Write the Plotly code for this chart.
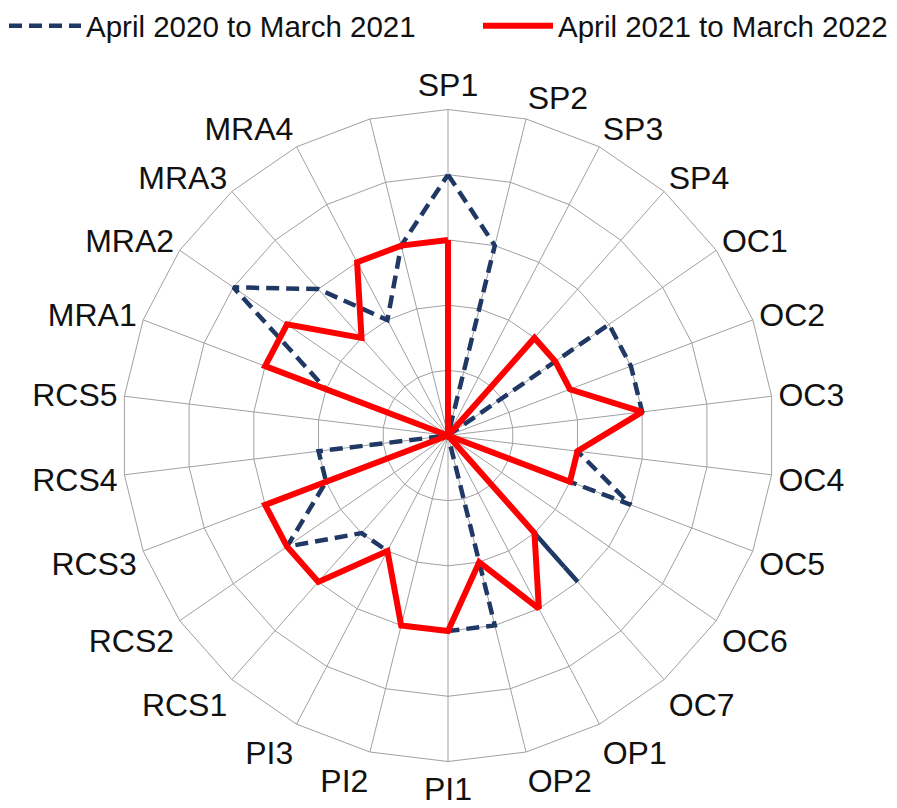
import plotly.graph_objects as go

categories = ["SP1", "SP2", "SP3", "SP4", "OC1", "OC2", "OC3", "OC4", "OC5", "OC6", "OC7",
              "OP1", "OP2", "PI1", "PI2", "PI3", "RCS1", "RCS2", "RCS3", "RCS4", "RCS5",
              "MRA1", "MRA2", "MRA3", "MRA4", " "]

values_2020_21 = [4, 3, 0, 0, 3, 3, 3, 2, 3, 0, 3, 0, 3, 3, 3, 2, 2, 3, 2, 2, 0, 2, 4, 3, 2, 3]
values_2021_22 = [3, 0, 0, 2, 2, 2, 3, 2, 2, 0, 2, 3, 2, 3, 3, 2, 3, 3, 3, 0, 0, 3, 3, 2, 3, 3]

series_names = ["April 2020 to March 2021", "April 2021 to March 2022"]
radial_ticks = [1, 2, 3, 4, 5]

W, H = 897, 808
cx, cy, R = 448, 435.5, 326

def closed(v):
    return list(v) + [v[0]]

fig = go.Figure()
fig.add_trace(go.Scatterpolar(
    r=closed(values_2020_21), theta=closed(categories), mode="lines",
    name=series_names[0], legend="legend",
    line=dict(color="#1F3864", width=4.5, dash="13px,7px"),
))
fig.add_trace(go.Scatterpolar(
    r=closed(values_2021_22), theta=closed(categories), mode="lines",
    name=series_names[1], legend="legend2",
    line=dict(color="#FF0000", width=6),
))

legend_common = dict(orientation="h", yanchor="top", xanchor="left", y=1.0,
                     font=dict(size=29.5, color="#111111"),
                     bgcolor="rgba(0,0,0,0)")

fig.update_layout(
    width=W, height=H,
    margin=dict(l=0, r=0, t=0, b=0),
    paper_bgcolor="white",
    font=dict(family="Liberation Sans, Arial, sans-serif", color="black"),
    showlegend=True,
    legend=dict(x=4 / W, itemwidth=72, **legend_common),
    legend2=dict(x=478 / W, itemwidth=70, **legend_common),
    polar=dict(
        domain=dict(x=[(cx - R) / W, (cx + R) / W],
                    y=[(H - cy - R) / H, (H - cy + R) / H]),
        bgcolor="white",
        gridshape="linear",
        radialaxis=dict(range=[0, 5], tickvals=radial_ticks, showticklabels=False,
                        ticks="", showline=False, gridcolor="#A0A0A0", gridwidth=1),
        angularaxis=dict(type="category", categoryorder="array", categoryarray=categories,
                         rotation=90, direction="clockwise", showline=True,
                         linecolor="#A0A0A0", linewidth=1, gridcolor="#A0A0A0",
                         gridwidth=1, ticks="", tickfont=dict(size=32, color="#111111")),
    ),
)

fig.write_html("out.html", config={"displayModeBar": False},
               post_script="document.body.style.margin='0';")
